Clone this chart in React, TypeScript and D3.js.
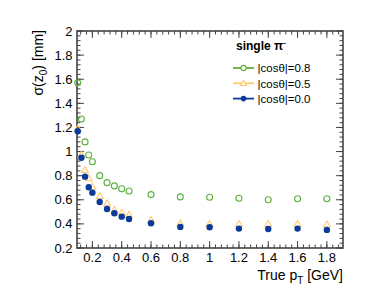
import * as d3 from "d3";

const pt = [0.1, 0.125, 0.15, 0.175, 0.2, 0.25, 0.3, 0.35, 0.4, 0.45, 0.6, 0.8, 1.0, 1.2, 1.4, 1.6, 1.8];
const cos08 = [1.57, 1.27, 1.08, 0.972, 0.915, 0.8, 0.742, 0.715, 0.692, 0.673, 0.643, 0.624, 0.621, 0.613, 0.6, 0.609, 0.609];
const cos05 = [1.19, 0.975, 0.847, 0.779, 0.709, 0.632, 0.571, 0.516, 0.493, 0.477, 0.433, 0.405, 0.4, 0.4, 0.4, 0.4, 0.395];
const cos00 = [1.168, 0.949, 0.792, 0.704, 0.659, 0.582, 0.524, 0.488, 0.46, 0.441, 0.405, 0.375, 0.372, 0.361, 0.358, 0.361, 0.35];

const xMajor = [0.2, 0.4, 0.6, 0.8, 1, 1.2, 1.4, 1.6, 1.8];
const xLabels = ["0.2", "0.4", "0.6", "0.8", "1", "1.2", "1.4", "1.6", "1.8"];
const yMajor = [0.2, 0.4, 0.6, 0.8, 1, 1.2, 1.4, 1.6, 1.8, 2];
const yLabels = ["0.2", "0.4", "0.6", "0.8", "1", "1.2", "1.4", "1.6", "1.8", "2"];

const GREEN = "#5cb23c";
const ORANGE = "#ffc870";
const BLUE = "#0a3a9a";
const FONT = "'Liberation Sans', Arial, Helvetica, sans-serif";

const W = 381;
const H = 303;
const m = { left: 77, right: 343, top: 31, bottom: 248 };

export default function App() {
  const x = d3.scaleLinear().domain([0.095, 1.91]).range([m.left, m.right]);
  const y = d3.scaleLinear().domain([0.2, 2]).range([m.bottom, m.top]);

  // minor ticks every 0.04
  const xMinor = d3.range(0, 50).map((i) => +(0.08 + i * 0.04).toFixed(3)).filter((v) => v > 0.095 && v < 1.91);
  const yMinor = d3.range(0, 46).map((i) => +(0.2 + i * 0.04).toFixed(3)).filter((v) => v >= 0.2 && v <= 2);

  const tri = (cx: number, cy: number, s = 3.4) =>
    `M${cx},${cy - s}L${cx + s},${cy + s * 0.75}L${cx - s},${cy + s * 0.75}Z`;

  const ax = "#444";

  return (
    <svg width={W} height={H} style={{ position: "absolute", left: 0, top: 0 }} fontFamily={FONT}>
      <rect width={W} height={H} fill="white" />

      {/* ticks */}
      <g stroke={ax} strokeWidth={1}>
        {xMinor.map((v) => (
          <g key={"xm" + v}>
            <line x1={x(v)} x2={x(v)} y1={m.bottom} y2={m.bottom - 3.5} />
            <line x1={x(v)} x2={x(v)} y1={m.top} y2={m.top + 3.5} />
          </g>
        ))}
        {xMajor.map((v) => (
          <g key={"xM" + v}>
            <line x1={x(v)} x2={x(v)} y1={m.bottom} y2={m.bottom - 7} />
            <line x1={x(v)} x2={x(v)} y1={m.top} y2={m.top + 7} />
          </g>
        ))}
        {yMinor.map((v) => (
          <g key={"ym" + v}>
            <line x1={m.left} x2={m.left + 3.5} y1={y(v)} y2={y(v)} />
            <line x1={m.right} x2={m.right - 3.5} y1={y(v)} y2={y(v)} />
          </g>
        ))}
        {yMajor.map((v) => (
          <g key={"yM" + v}>
            <line x1={m.left} x2={m.left + 7} y1={y(v)} y2={y(v)} />
            <line x1={m.right} x2={m.right - 7} y1={y(v)} y2={y(v)} />
          </g>
        ))}
      </g>

      <rect
        x={m.left}
        y={m.top}
        width={m.right - m.left}
        height={m.bottom - m.top}
        fill="none"
        stroke={ax}
        strokeWidth={1.6}
      />

      {/* tick labels */}
      <g fontSize={13} fill="#000">
        {xMajor.map((v, i) => (
          <text key={"xl" + v} x={x(v)} y={262} textAnchor="middle">
            {xLabels[i]}
          </text>
        ))}
        {yMajor.map((v, i) => (
          <text key={"yl" + v} x={72.5} y={y(v) + 4.6} textAnchor="end">
            {yLabels[i]}
          </text>
        ))}
      </g>

      {/* axis titles */}
      <text x={343} y={280} textAnchor="end" fontSize={14}>
        True p<tspan dy={3.5} fontSize={10}>T</tspan>
        <tspan dy={-3.5}> [GeV]</tspan>
      </text>
      <text transform="translate(43,30) rotate(-90)" textAnchor="end" fontSize={14}>
        σ(z<tspan dy={3.5} fontSize={10}>0</tspan>
        <tspan dy={-3.5}>) [mm]</tspan>
      </text>

      {/* data */}
      {pt.map((p, i) => (
        <circle key={"g" + i} cx={x(p)} cy={y(cos08[i])} r={3} fill="none" stroke={GREEN} strokeWidth={1.1} />
      ))}
      {pt.map((p, i) => (
        <path key={"o" + i} d={tri(x(p), y(cos05[i]))} fill="none" stroke={ORANGE} strokeWidth={1.1} />
      ))}
      {pt.map((p, i) => (
        <circle key={"b" + i} cx={x(p)} cy={y(cos00[i])} r={3.2} fill={BLUE} />
      ))}

      {/* legend */}
      <text x={236} y={50} fontSize={12} fontWeight="bold">
        single π<tspan dy={-5} fontSize={8}>-</tspan>
      </text>
      {[
        { label: "|cosθ|=0.8", color: GREEN, kind: "open" },
        { label: "|cosθ|=0.5", color: ORANGE, kind: "tri" },
        { label: "|cosθ|=0.0", color: BLUE, kind: "full" },
      ].map((e, i) => {
        const ly = 68 + i * 15.3;
        return (
          <g key={e.label}>
            <line x1={233} x2={254} y1={ly} y2={ly} stroke={e.color} strokeWidth={1.8} />
            {e.kind === "open" && <circle cx={243.5} cy={ly} r={2.6} fill="white" stroke={e.color} strokeWidth={1.1} />}
            {e.kind === "tri" && <path d={tri(243.5, ly, 3)} fill="white" stroke={e.color} strokeWidth={1.1} />}
            {e.kind === "full" && <circle cx={243.5} cy={ly} r={2.8} fill={e.color} />}
            <text x={257.5} y={ly + 4.2} fontSize={11.5}>
              {e.label}
            </text>
          </g>
        );
      })}
    </svg>
  );
}
